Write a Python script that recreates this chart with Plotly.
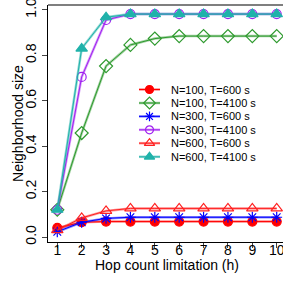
import plotly.graph_objects as go

hops = [1, 2, 3, 4, 5, 6, 7, 8, 9, 10]
n100_t600 = [0.040, 0.065, 0.068, 0.068, 0.068, 0.068, 0.068, 0.068, 0.068, 0.068]
n100_t4100 = [0.120, 0.458, 0.753, 0.846, 0.874, 0.885, 0.885, 0.885, 0.885, 0.885]
n300_t600 = [0.023, 0.065, 0.082, 0.087, 0.087, 0.087, 0.087, 0.087, 0.087, 0.087]
n300_t4100 = [0.120, 0.705, 0.956, 0.982, 0.982, 0.982, 0.982, 0.982, 0.982, 0.982]
n600_t600 = [0.030, 0.084, 0.115, 0.126, 0.126, 0.126, 0.126, 0.126, 0.126, 0.126]
n600_t4100 = [0.120, 0.830, 0.968, 0.982, 0.982, 0.982, 0.982, 0.982, 0.982, 0.982]
names = ["N=100, T=600 s", "N=100, T=4100 s", "N=300, T=600 s",
         "N=300, T=4100 s", "N=600, T=600 s", "N=600, T=4100 s"]
y_ticks = [0, 0.2, 0.4, 0.6, 0.8, 1.0]

series = [n100_t600, n100_t4100, n300_t600, n300_t4100, n600_t600, n600_t4100]
styles = [
    dict(color="#ff0000", band="rgba(255,0,0,0.45)", symbol="circle", size=9, thin=1.0),
    dict(color="#2e9a2e", band="rgba(46,154,46,0.45)", symbol="diamond-open", size=10, thin=1.0),
    dict(color="#0000ff", band="rgba(0,0,255,0.45)", symbol="asterisk-open", size=9, thin=1.0),
    dict(color="#a020f0", band="rgba(160,32,240,0.45)", symbol="circle-open", size=9, thin=1.0),
    dict(color="#ff2020", band="rgba(255,32,32,0.45)", symbol="triangle-up-open", size=10, thin=1.0),
    dict(color="#20b2aa", band="rgba(32,178,170,0.5)", symbol="triangle-up", size=10, thin=1.0),
]

fig = go.Figure()
for name, ys, st in zip(names, series, styles):
    fig.add_trace(go.Scatter(x=hops, y=ys, mode="lines", showlegend=False,
                             line=dict(color=st["band"], width=2.5), hoverinfo="skip"))
    fig.add_trace(go.Scatter(
        x=hops, y=ys, name=name, mode="lines+markers", showlegend=False,
        line=dict(color=st["color"], width=st["thin"]),
        marker=dict(symbol=st["symbol"], size=st["size"], color=st["color"],
                    line=dict(color=st["color"], width=1.2)),
    ))

# manual legend (overlay axis in pixel units of the plot area)
leg_rows = [89.5, 103.0, 116.4, 129.8, 143.2, 156.8]
for name, st, ry in zip(names, styles, leg_rows):
    fig.add_trace(go.Scatter(x=[139, 160], y=[ry, ry], mode="lines", xaxis="x2", yaxis="y2",
                             showlegend=False, hoverinfo="skip",
                             line=dict(color=st["band"], width=2.5)))
    fig.add_trace(go.Scatter(x=[139, 160], y=[ry, ry], mode="lines", xaxis="x2", yaxis="y2",
                             showlegend=False, hoverinfo="skip",
                             line=dict(color=st["color"], width=1)))
    fig.add_trace(go.Scatter(x=[149.5], y=[ry], mode="markers", xaxis="x2", yaxis="y2",
                             showlegend=False, hoverinfo="skip",
                             marker=dict(symbol=st["symbol"], size=st["size"] - 1,
                                         color=st["color"],
                                         line=dict(color=st["color"], width=1.2))))
    fig.add_annotation(x=169, y=ry, xref="x2", yref="y2", text=name, showarrow=False,
                       xanchor="left", yanchor="middle", font=dict(size=11))

# axis titles
fig.add_annotation(x=0.506, y=-0.098, xref="paper", yref="paper",
                   text="Hop count limitation (h)", showarrow=False,
                   xanchor="center", yanchor="middle", font=dict(size=14))
fig.add_annotation(x=-0.128, y=0.502, xref="paper", yref="paper",
                   text="Neighborhood size", showarrow=False, textangle=-90,
                   xanchor="center", yanchor="middle", font=dict(size=14))

font = "Liberation Sans, Arial, sans-serif"
fig.update_layout(
    width=283, height=283,
    margin=dict(l=48, r=0, t=5, b=41),
    paper_bgcolor="white", plot_bgcolor="white",
    font=dict(family=font, size=14, color="black"),
    showlegend=False,
    xaxis=dict(range=[0.619, 10.258], tickvals=hops, ticks="outside", ticklen=5,
               showgrid=False, zeroline=False, showline=True, linecolor="black",
               automargin=False, ticklabeloverflow="allow", ticklabelstandoff=-10,
               tickfont=dict(size=14)),
    yaxis=dict(range=[-0.022, 1.022], tickvals=y_ticks,
               tickformat=".1f", ticks="outside", ticklen=5, tickangle=-90,
               showgrid=False, zeroline=False, showline=True, linecolor="black",
               automargin=False, ticklabeloverflow="allow",
               tickfont=dict(size=14)),
    xaxis2=dict(range=[48, 283], overlaying="x", visible=False, domain=[0, 1]),
    yaxis2=dict(range=[242, 5], overlaying="y", visible=False, domain=[0, 1]),
)
fig.add_shape(type="line", xref="paper", yref="paper", x0=0, x1=1, y0=1, y1=1,
              line=dict(color="#555", width=1.5))
fig.write_html(
    "out.html",
    config={"displayModeBar": False},
    post_script=("document.body.style.margin='0';"
                 "document.body.style.overflow='hidden';"
                 "document.documentElement.style.overflow='hidden';"),
)
